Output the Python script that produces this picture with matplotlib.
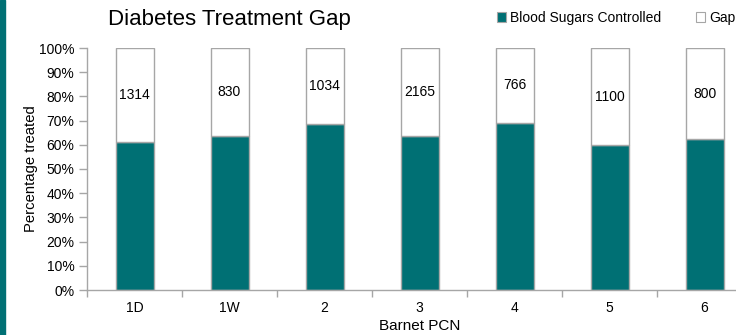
import matplotlib
matplotlib.use("Agg")
import matplotlib.pyplot as plt
from matplotlib.patches import Rectangle, Patch
from matplotlib.ticker import FixedLocator, PercentFormatter
import numpy as np

plt.rcParams['font.family'] = ['Liberation Sans', 'DejaVu Sans']

pcns = ["1D", "1W", "2", "3", "4", "5", "6"]
controlled = [0.613, 0.638, 0.685, 0.638, 0.691, 0.598, 0.623]
gap_counts = [1314, 830, 1034, 2165, 766, 1100, 800]

teal = "#007074"
edge = "#A6A6A6"
W, H = 736, 335

fig = plt.figure(figsize=(W / 100, H / 100), dpi=100)
fig.patches.append(Rectangle((0, 0), 5 / W, 1, transform=fig.transFigure,
                             color=teal, zorder=0))

ax = fig.add_axes([87 / W, 1 - 290 / H, 665 / W, 242 / H])
x = np.arange(len(pcns))
gap = [1 - c for c in controlled]
ax.bar(x, controlled, width=0.4, color=teal, edgecolor=edge, linewidth=1)
ax.bar(x, gap, width=0.4, bottom=controlled, color="white", edgecolor=edge, linewidth=1)
for xi, c, n in zip(x, controlled, gap_counts):
    ax.text(xi, (1 + c) / 2, str(n), ha="center", va="center", fontsize=10, color="#000000")

ax.set_xlim(-0.5, len(pcns) - 0.5)
ax.set_ylim(0, 1)
ax.set_xticks(x)
ax.set_xticklabels(pcns)
ax.xaxis.set_minor_locator(FixedLocator(np.arange(-0.5, len(pcns), 1.0)))
ax.tick_params(axis="x", which="major", length=0, pad=8, labelsize=10)
ax.tick_params(axis="x", which="minor", length=5, color=edge, width=1)
ax.set_yticks(np.arange(0, 1.01, 0.1))
ax.yaxis.set_major_formatter(PercentFormatter(1.0, decimals=0))
ax.tick_params(axis="y", length=6, color=edge, width=1, labelsize=10, pad=3)
for s in ("top", "right"):
    ax.spines[s].set_visible(False)
for s in ("left", "bottom"):
    ax.spines[s].set_color(edge)
    ax.spines[s].set_linewidth(1)

ax.set_xlabel("Barnet PCN", fontsize=11, labelpad=3)
ax.set_ylabel("Percentage treated", fontsize=10.7, labelpad=0.5)

fig.text(108 / W, 1 - 20 / H, "Diabetes Treatment Gap", fontsize=16, ha="left", va="center")

handles = [Patch(facecolor=teal, edgecolor=edge, linewidth=0.8),
           Patch(facecolor="white", edgecolor=edge, linewidth=0.8)]
fig.legend(handles, ["Blood Sugars Controlled", "Gap"], loc="center",
           bbox_to_anchor=(616 / W, 1 - 18 / H), ncol=2, frameon=False,
           fontsize=10, handlelength=0.65, handleheight=0.65, handletextpad=0.3,
           columnspacing=2.5)

fig.savefig("out.png", dpi=100)
